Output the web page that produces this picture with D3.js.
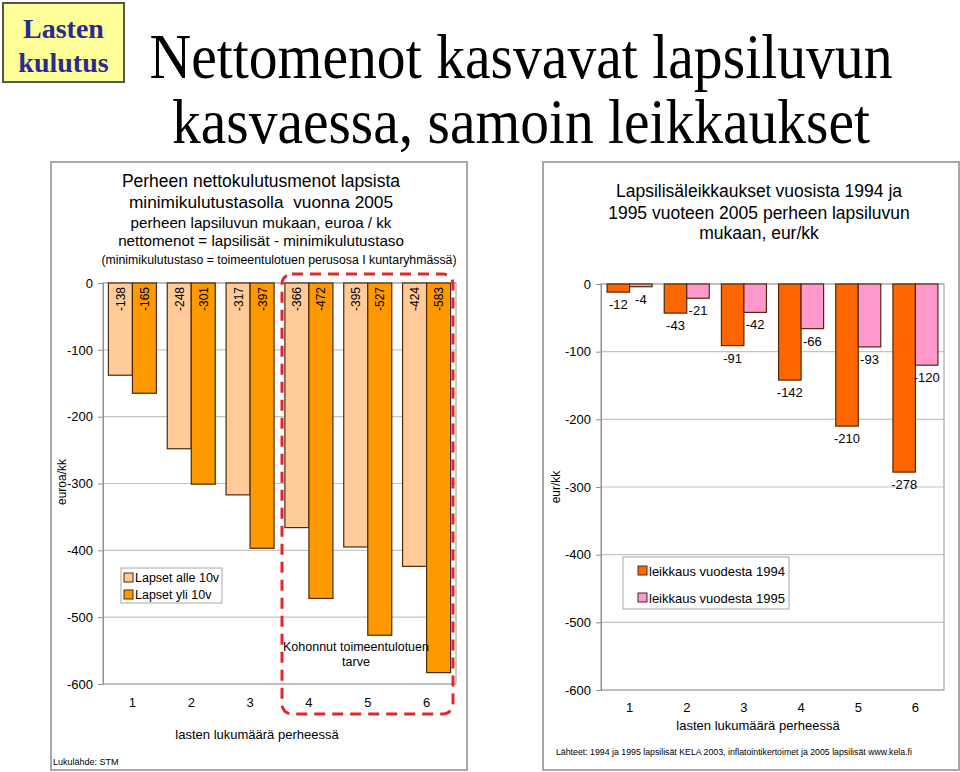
<!DOCTYPE html>
<html><head><meta charset="utf-8">
<script src="https://cdn.jsdelivr.net/npm/d3@7"></script>
<style>body{margin:0;background:#fff}svg{display:block}text{font-family:"Liberation Sans",Arial,sans-serif;fill:#000}</style>
</head><body><svg id="c" width="960" height="772"></svg>
<script>
const categories = ["1","2","3","4","5","6"];
const under10 = [-138,-248,-317,-366,-395,-424];
const over10 = [-165,-301,-397,-472,-527,-583];
const cut1994 = [-12,-43,-91,-142,-210,-278];
const cut1995 = [-4,-21,-42,-66,-93,-120];
const yTicks = [0,-100,-200,-300,-400,-500,-600];

const svg = d3.select("#c");
// top-left label box
svg.append("rect").attr("x",3).attr("y",3).attr("width",121).attr("height",79).attr("fill","#ffff99").attr("stroke","#555").attr("stroke-width",2);
[["Lasten",38],["kulutus",72]].forEach(([t,y])=>svg.append("text").attr("x",63.5).attr("y",y).attr("text-anchor","middle")
  .style("font-family","'Liberation Serif','Times New Roman',serif").style("font-weight","bold").style("font-size","28px").style("fill","#2b2b8f").text(t));
// main title
[["Nettomenot kasvavat lapsiluvun",78,743],["kasvaessa, samoin leikkaukset",143,698]].forEach(([t,y,w])=>svg.append("text").attr("x",521).attr("y",y).attr("text-anchor","middle")
  .attr("textLength",w).attr("lengthAdjust","spacingAndGlyphs")
  .style("font-family","'Liberation Serif','Times New Roman',serif").style("font-size","63px").text(t));

// panels
svg.append("rect").attr("x",51).attr("y",162).attr("width",416).attr("height",608).attr("fill","none").attr("stroke","#a8a8a8").attr("stroke-width",2);
svg.append("rect").attr("x",543).attr("y",162).attr("width",416).attr("height",608).attr("fill","none").attr("stroke","#a8a8a8").attr("stroke-width",2);

function panel(cfg){
  const g = svg.append("g");
  const y = d3.scaleLinear().domain([-600,0]).range([cfg.bottom,cfg.top]);
  const x0 = d3.scaleBand().domain(categories).range([cfg.left,cfg.right]).padding(0);
  const x1 = d3.scaleBand().domain([0,1]).range([0,x0.bandwidth()]).paddingInner(0).paddingOuter(cfg.po);
  g.selectAll(".grid").data(yTicks).join("line").attr("x1",cfg.left).attr("x2",cfg.right)
    .attr("y1",d=>y(d)).attr("y2",d=>y(d)).attr("stroke","#c4c4c4").attr("stroke-width",1.2);
  g.append("rect").attr("x",cfg.left).attr("y",cfg.top).attr("width",cfg.right-cfg.left).attr("height",cfg.bottom-cfg.top)
    .attr("fill","none").attr("stroke","#a8a8a8").attr("stroke-width",1.2);
  const ax = g.append("g").attr("transform",`translate(${cfg.left},0)`).call(d3.axisLeft(y).tickValues(yTicks).tickSize(5).tickPadding(5).tickFormat(d=>String(d)));
  ax.select(".domain").attr("stroke","#909090");
  ax.selectAll(".tick line").attr("stroke","#909090");
  ax.selectAll(".tick text").style("font-size","13px").style("font-family","'Liberation Sans',Arial,sans-serif").attr("fill","#000");
  cfg.series.forEach((s,si)=>{
    g.selectAll(".b"+si).data(s.values).join("rect")
      .attr("x",(d,i)=>x0(categories[i])+x1(si)).attr("width",x1.bandwidth())
      .attr("y",y(0)).attr("height",d=>y(d)-y(0))
      .attr("fill",s.color).attr("stroke","#4d2a0c").attr("stroke-width",1.2);
  });
  g.selectAll(".cl").data(categories).join("text").attr("x",d=>x0(d)+x0.bandwidth()/2).attr("y",cfg.catY)
    .attr("text-anchor","middle").style("font-size","13px").text(d=>d);
  g.append("text").attr("x",cfg.xlabX).attr("y",cfg.xlabY).attr("text-anchor","middle").style("font-size","13px").text("lasten lukumäärä perheessä");
  g.append("text").attr("transform",`translate(${cfg.ylabX},${cfg.ylabY}) rotate(-90)`).attr("text-anchor","middle").style("font-size","12px").text(cfg.ylab);
  return {g,x0,x1,y};
}

// left chart
const L = panel({left:103,right:456,top:283,bottom:684,po:0.225,catY:707,xlabX:257,xlabY:739,ylabX:66,ylabY:482,ylab:"euroa/kk",
  series:[{values:under10,color:"#ffcc99"},{values:over10,color:"#ff9900"}]});
[under10,over10].forEach((vals,si)=>{
  L.g.selectAll(".lv"+si).data(vals).join("text")
    .attr("transform",(d,i)=>`translate(${L.x0(categories[i])+L.x1(si)+L.x1.bandwidth()/2+4.5},${L.y(0)+4}) rotate(-90)`)
    .attr("text-anchor","end").style("font-size","12px").text(d=>String(d));
});
const lt = [["Perheen nettokulutusmenot lapsista",187,17.5],["minimikulutustasolla  vuonna 2005",208,17.3],["perheen lapsiluvun mukaan, euroa / kk",228,15.2],["nettomenot = lapsilisät - minimikulutustaso",246,15.2]];
lt.forEach(([t,y,s])=>svg.append("text").attr("x",261).attr("y",y).attr("text-anchor","middle").style("font-size",s+"px").style("white-space","pre").attr("xml:space","preserve").text(t));
svg.append("text").attr("x",279).attr("y",264).attr("text-anchor","middle").style("font-size","12.3px").text("(minimikulutustaso = toimeentulotuen perusosa I kuntaryhmässä)");
svg.append("rect").attr("x",282).attr("y",274).attr("width",171).attr("height",440).attr("rx",10).attr("fill","none")
  .attr("stroke","#e3262d").attr("stroke-width",3).attr("stroke-dasharray","11,7");
svg.append("text").attr("x",356).attr("y",651).attr("text-anchor","middle").style("font-size","12.5px").text("Kohonnut toimeentulotuen");
svg.append("text").attr("x",356).attr("y",666).attr("text-anchor","middle").style("font-size","12.5px").text("tarve");
svg.append("rect").attr("x",121).attr("y",568).attr("width",101).attr("height",35).attr("fill","#fff").attr("stroke","#a8a8a8");
[["Lapset alle 10v","#ffcc99",582],["Lapset yli 10v","#ff9900",599]].forEach(([t,c,y])=>{
  svg.append("rect").attr("x",124).attr("y",y-9).attr("width",9).attr("height",9).attr("fill",c).attr("stroke","#4d2a0c");
  svg.append("text").attr("x",135).attr("y",y).style("font-size","12.5px").text(t);
});
svg.append("text").attr("x",53).attr("y",765).style("font-size","9px").text("Lukulähde: STM");

// right chart
const R = panel({left:601,right:944,top:284,bottom:690,po:0.27,catY:712,xlabX:758,xlabY:730,ylabX:560,ylabY:487,ylab:"eur/kk",
  series:[{values:cut1994,color:"#ff6600"},{values:cut1995,color:"#ff99cc"}]});
[cut1994,cut1995].forEach((vals,si)=>{
  R.g.selectAll(".rv"+si).data(vals).join("text")
    .attr("x",(d,i)=>R.x0(categories[i])+R.x1(si)+R.x1.bandwidth()/2)
    .attr("y",d=>R.y(d)+17).attr("text-anchor","middle").style("font-size","13px").text(d=>String(d));
});
[["Lapsilisäleikkaukset vuosista 1994 ja",197],["1995 vuoteen 2005 perheen lapsiluvun",219],["mukaan, eur/kk",239]].forEach(([t,y])=>
  svg.append("text").attr("x",759).attr("y",y).attr("text-anchor","middle").style("font-size","17.5px").text(t));
svg.append("rect").attr("x",623).attr("y",557).attr("width",166).attr("height",52).attr("fill","#fff").attr("stroke","#a8a8a8");
[["leikkaus vuodesta 1994","#ff6600",576],["leikkaus vuodesta 1995","#ff99cc",603]].forEach(([t,c,y])=>{
  svg.append("rect").attr("x",638).attr("y",y-10).attr("width",9).attr("height",9).attr("fill",c).attr("stroke","#4d2a0c");
  svg.append("text").attr("x",649).attr("y",y).style("font-size","13px").text(t);
});
svg.append("text").attr("x",556).attr("y",755).attr("textLength",356).attr("lengthAdjust","spacingAndGlyphs").style("font-size","8.5px")
  .text("Lähteet: 1994 ja 1995 lapsilisät KELA 2003, inflatointikertoimet ja 2005 lapsilisät www.kela.fi");
</script></body></html>
